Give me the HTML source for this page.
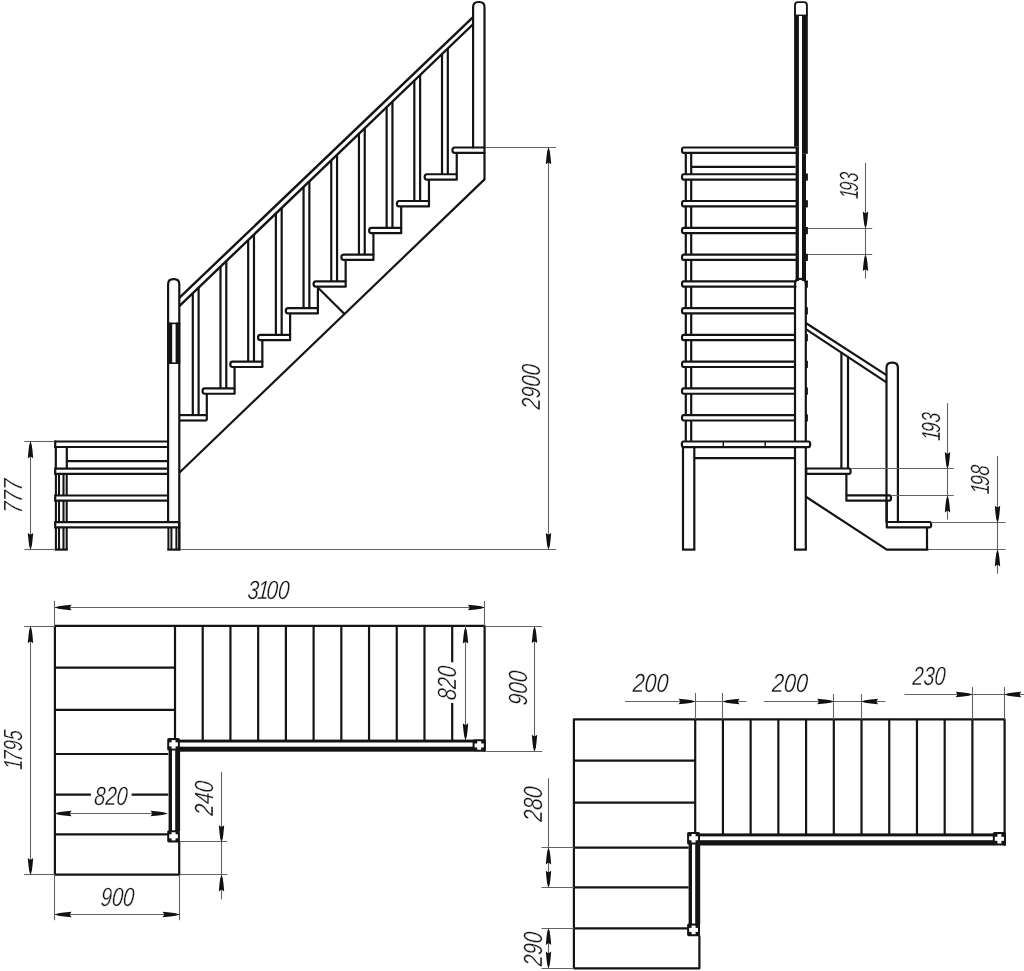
<!DOCTYPE html>
<html lang="en"><head><meta charset="utf-8"><title>Staircase drawing</title>
<style>
html,body{margin:0;padding:0;background:#fff}
body{width:1024px;height:971px;overflow:hidden}
svg{display:block;filter:grayscale(1)}
svg text{font-family:"Liberation Sans","DejaVu Sans",sans-serif;font-style:italic;font-size:26.3px;fill:#161616;stroke:#fff;stroke-width:0.3px;paint-order:fill stroke}
</style></head><body>
<svg width="1024" height="971" viewBox="0 0 1024 971">
<rect width="1024" height="971" fill="#fff"/>
<line x1="179.30" y1="472.80" x2="484.50" y2="179.40" stroke="#141414" stroke-width="2.2" stroke-linecap="butt"/>
<line x1="318.60" y1="288.30" x2="344.50" y2="314.00" stroke="#141414" stroke-width="2.2" stroke-linecap="butt"/>
<path d="M234.57,388.34 H204.70 Q202.50,388.34 202.50,391.04 Q202.50,393.74 204.70,393.74 H234.57" fill="none" stroke="#141414" stroke-width="2.2" stroke-linejoin="round" stroke-linecap="round"/>
<line x1="206.80" y1="393.74" x2="206.80" y2="420.50" stroke="#141414" stroke-width="2.2" stroke-linecap="butt"/>
<path d="M262.34,361.58 H232.47 Q230.27,361.58 230.27,364.28 Q230.27,366.98 232.47,366.98 H262.34" fill="none" stroke="#141414" stroke-width="2.2" stroke-linejoin="round" stroke-linecap="round"/>
<line x1="234.57" y1="366.98" x2="234.57" y2="393.74" stroke="#141414" stroke-width="2.2" stroke-linecap="butt"/>
<path d="M290.11,334.82 H260.24 Q258.04,334.82 258.04,337.52 Q258.04,340.22 260.24,340.22 H290.11" fill="none" stroke="#141414" stroke-width="2.2" stroke-linejoin="round" stroke-linecap="round"/>
<line x1="262.34" y1="340.22" x2="262.34" y2="366.98" stroke="#141414" stroke-width="2.2" stroke-linecap="butt"/>
<path d="M317.88,308.06 H288.01 Q285.81,308.06 285.81,310.76 Q285.81,313.46 288.01,313.46 H317.88" fill="none" stroke="#141414" stroke-width="2.2" stroke-linejoin="round" stroke-linecap="round"/>
<line x1="290.11" y1="313.46" x2="290.11" y2="340.22" stroke="#141414" stroke-width="2.2" stroke-linecap="butt"/>
<path d="M345.65,281.30 H315.78 Q313.58,281.30 313.58,284.00 Q313.58,286.70 315.78,286.70 H345.65" fill="none" stroke="#141414" stroke-width="2.2" stroke-linejoin="round" stroke-linecap="round"/>
<line x1="317.88" y1="286.70" x2="317.88" y2="313.46" stroke="#141414" stroke-width="2.2" stroke-linecap="butt"/>
<path d="M373.42,254.54 H343.55 Q341.35,254.54 341.35,257.24 Q341.35,259.94 343.55,259.94 H373.42" fill="none" stroke="#141414" stroke-width="2.2" stroke-linejoin="round" stroke-linecap="round"/>
<line x1="345.65" y1="259.94" x2="345.65" y2="286.70" stroke="#141414" stroke-width="2.2" stroke-linecap="butt"/>
<path d="M401.19,227.78 H371.32 Q369.12,227.78 369.12,230.48 Q369.12,233.18 371.32,233.18 H401.19" fill="none" stroke="#141414" stroke-width="2.2" stroke-linejoin="round" stroke-linecap="round"/>
<line x1="373.42" y1="233.18" x2="373.42" y2="259.94" stroke="#141414" stroke-width="2.2" stroke-linecap="butt"/>
<path d="M428.96,201.02 H399.09 Q396.89,201.02 396.89,203.72 Q396.89,206.42 399.09,206.42 H428.96" fill="none" stroke="#141414" stroke-width="2.2" stroke-linejoin="round" stroke-linecap="round"/>
<line x1="401.19" y1="206.42" x2="401.19" y2="233.18" stroke="#141414" stroke-width="2.2" stroke-linecap="butt"/>
<path d="M456.73,174.26 H426.86 Q424.66,174.26 424.66,176.96 Q424.66,179.66 426.86,179.66 H456.73" fill="none" stroke="#141414" stroke-width="2.2" stroke-linejoin="round" stroke-linecap="round"/>
<line x1="428.96" y1="179.66" x2="428.96" y2="206.42" stroke="#141414" stroke-width="2.2" stroke-linecap="butt"/>
<path d="M484.50,147.50 H454.63 Q452.43,147.50 452.43,150.20 Q452.43,152.90 454.63,152.90 H484.50" fill="none" stroke="#141414" stroke-width="2.2" stroke-linejoin="round" stroke-linecap="round"/>
<line x1="456.73" y1="152.90" x2="456.73" y2="179.66" stroke="#141414" stroke-width="2.2" stroke-linecap="butt"/>
<line x1="179.30" y1="415.10" x2="206.80" y2="415.10" stroke="#141414" stroke-width="2.2" stroke-linecap="butt"/>
<line x1="179.30" y1="420.50" x2="206.80" y2="420.50" stroke="#141414" stroke-width="2.2" stroke-linecap="butt"/>
<path d="M473.1,147.50 V7.2 Q473.1,2.0 478.3,2.0 H479.3 Q484.5,2.0 484.5,7.2 V179.4" fill="none" stroke="#141414" stroke-width="2.2" stroke-linejoin="round" stroke-linecap="round"/>
<path d="M168.1,521.9 V284.4 Q168.1,279.2 173.3,279.2 H174.1 Q179.3,279.2 179.3,284.4 V549.6" fill="none" stroke="#141414" stroke-width="2.2" stroke-linejoin="round" stroke-linecap="round"/>
<rect x="167.20" y="322.60" width="5.00" height="41.20" fill="#141414"/>
<rect x="175.60" y="322.60" width="4.60" height="41.20" fill="#141414"/>
<line x1="167.20" y1="323.40" x2="180.20" y2="323.40" stroke="#141414" stroke-width="1.6" stroke-linecap="butt"/>
<line x1="167.20" y1="363.20" x2="180.20" y2="363.20" stroke="#141414" stroke-width="1.6" stroke-linecap="butt"/>
<line x1="179.30" y1="297.90" x2="473.30" y2="16.90" stroke="#141414" stroke-width="2.4" stroke-linecap="butt"/>
<line x1="179.30" y1="306.20" x2="473.30" y2="24.00" stroke="#141414" stroke-width="2.4" stroke-linecap="butt"/>
<line x1="192.80" y1="293.24" x2="192.80" y2="415.10" stroke="#141414" stroke-width="2.2" stroke-linecap="butt"/>
<line x1="198.60" y1="287.67" x2="198.60" y2="415.10" stroke="#141414" stroke-width="2.2" stroke-linecap="butt"/>
<line x1="220.49" y1="266.66" x2="220.49" y2="388.34" stroke="#141414" stroke-width="2.2" stroke-linecap="butt"/>
<line x1="226.29" y1="261.10" x2="226.29" y2="388.34" stroke="#141414" stroke-width="2.2" stroke-linecap="butt"/>
<line x1="248.18" y1="240.08" x2="248.18" y2="361.58" stroke="#141414" stroke-width="2.2" stroke-linecap="butt"/>
<line x1="253.98" y1="234.52" x2="253.98" y2="361.58" stroke="#141414" stroke-width="2.2" stroke-linecap="butt"/>
<line x1="275.87" y1="213.51" x2="275.87" y2="334.82" stroke="#141414" stroke-width="2.2" stroke-linecap="butt"/>
<line x1="281.67" y1="207.94" x2="281.67" y2="334.82" stroke="#141414" stroke-width="2.2" stroke-linecap="butt"/>
<line x1="303.56" y1="186.93" x2="303.56" y2="308.06" stroke="#141414" stroke-width="2.2" stroke-linecap="butt"/>
<line x1="309.36" y1="181.36" x2="309.36" y2="308.06" stroke="#141414" stroke-width="2.2" stroke-linecap="butt"/>
<line x1="331.25" y1="160.35" x2="331.25" y2="281.30" stroke="#141414" stroke-width="2.2" stroke-linecap="butt"/>
<line x1="337.05" y1="154.78" x2="337.05" y2="281.30" stroke="#141414" stroke-width="2.2" stroke-linecap="butt"/>
<line x1="358.94" y1="133.77" x2="358.94" y2="254.54" stroke="#141414" stroke-width="2.2" stroke-linecap="butt"/>
<line x1="364.74" y1="128.20" x2="364.74" y2="254.54" stroke="#141414" stroke-width="2.2" stroke-linecap="butt"/>
<line x1="386.63" y1="107.19" x2="386.63" y2="227.78" stroke="#141414" stroke-width="2.2" stroke-linecap="butt"/>
<line x1="392.43" y1="101.62" x2="392.43" y2="227.78" stroke="#141414" stroke-width="2.2" stroke-linecap="butt"/>
<line x1="414.32" y1="80.61" x2="414.32" y2="201.02" stroke="#141414" stroke-width="2.2" stroke-linecap="butt"/>
<line x1="420.12" y1="75.05" x2="420.12" y2="201.02" stroke="#141414" stroke-width="2.2" stroke-linecap="butt"/>
<line x1="442.01" y1="54.03" x2="442.01" y2="174.26" stroke="#141414" stroke-width="2.2" stroke-linecap="butt"/>
<line x1="447.81" y1="48.47" x2="447.81" y2="174.26" stroke="#141414" stroke-width="2.2" stroke-linecap="butt"/>
<line x1="55.20" y1="441.50" x2="168.10" y2="441.50" stroke="#141414" stroke-width="2.2" stroke-linecap="butt"/>
<line x1="55.20" y1="447.00" x2="168.10" y2="447.00" stroke="#141414" stroke-width="2.2" stroke-linecap="butt"/>
<line x1="55.20" y1="440.40" x2="55.20" y2="448.10" stroke="#141414" stroke-width="2.2" stroke-linecap="butt"/>
<line x1="66.80" y1="461.10" x2="168.10" y2="461.10" stroke="#141414" stroke-width="2.2" stroke-linecap="butt"/>
<line x1="55.20" y1="468.70" x2="168.10" y2="468.70" stroke="#141414" stroke-width="2.2" stroke-linecap="butt"/>
<line x1="55.20" y1="473.90" x2="168.10" y2="473.90" stroke="#141414" stroke-width="2.2" stroke-linecap="butt"/>
<line x1="55.20" y1="467.60" x2="55.20" y2="475.00" stroke="#141414" stroke-width="2.2" stroke-linecap="butt"/>
<line x1="55.20" y1="495.50" x2="168.10" y2="495.50" stroke="#141414" stroke-width="2.2" stroke-linecap="butt"/>
<line x1="55.20" y1="500.70" x2="168.10" y2="500.70" stroke="#141414" stroke-width="2.2" stroke-linecap="butt"/>
<line x1="55.20" y1="494.40" x2="55.20" y2="501.80" stroke="#141414" stroke-width="2.2" stroke-linecap="butt"/>
<line x1="55.20" y1="522.20" x2="179.30" y2="522.20" stroke="#141414" stroke-width="2.2" stroke-linecap="butt"/>
<line x1="55.20" y1="527.40" x2="179.30" y2="527.40" stroke="#141414" stroke-width="2.2" stroke-linecap="butt"/>
<line x1="55.20" y1="521.10" x2="55.20" y2="528.50" stroke="#141414" stroke-width="2.2" stroke-linecap="butt"/>
<line x1="179.30" y1="522.20" x2="179.30" y2="527.50" stroke="#141414" stroke-width="2.2" stroke-linecap="butt"/>
<line x1="55.80" y1="447.00" x2="55.80" y2="468.70" stroke="#141414" stroke-width="2.2" stroke-linecap="butt"/>
<line x1="66.80" y1="447.00" x2="66.80" y2="468.70" stroke="#141414" stroke-width="2.2" stroke-linecap="butt"/>
<line x1="55.90" y1="473.90" x2="55.90" y2="495.50" stroke="#141414" stroke-width="2.1" stroke-linecap="butt"/>
<line x1="59.00" y1="473.90" x2="59.00" y2="495.50" stroke="#141414" stroke-width="2.1" stroke-linecap="butt"/>
<line x1="63.50" y1="473.90" x2="63.50" y2="495.50" stroke="#141414" stroke-width="2.1" stroke-linecap="butt"/>
<line x1="66.70" y1="473.90" x2="66.70" y2="495.50" stroke="#141414" stroke-width="2.1" stroke-linecap="butt"/>
<line x1="55.90" y1="500.70" x2="55.90" y2="522.20" stroke="#141414" stroke-width="2.1" stroke-linecap="butt"/>
<line x1="59.00" y1="500.70" x2="59.00" y2="522.20" stroke="#141414" stroke-width="2.1" stroke-linecap="butt"/>
<line x1="63.50" y1="500.70" x2="63.50" y2="522.20" stroke="#141414" stroke-width="2.1" stroke-linecap="butt"/>
<line x1="66.70" y1="500.70" x2="66.70" y2="522.20" stroke="#141414" stroke-width="2.1" stroke-linecap="butt"/>
<line x1="55.90" y1="527.40" x2="55.90" y2="549.60" stroke="#141414" stroke-width="2.1" stroke-linecap="butt"/>
<line x1="59.00" y1="527.40" x2="59.00" y2="549.60" stroke="#141414" stroke-width="2.1" stroke-linecap="butt"/>
<line x1="63.50" y1="527.40" x2="63.50" y2="549.60" stroke="#141414" stroke-width="2.1" stroke-linecap="butt"/>
<line x1="66.70" y1="527.40" x2="66.70" y2="549.60" stroke="#141414" stroke-width="2.1" stroke-linecap="butt"/>
<line x1="54.80" y1="549.60" x2="67.80" y2="549.60" stroke="#141414" stroke-width="2.2" stroke-linecap="butt"/>
<line x1="168.40" y1="527.40" x2="168.40" y2="549.60" stroke="#141414" stroke-width="2.0" stroke-linecap="butt"/>
<line x1="171.40" y1="527.40" x2="171.40" y2="549.60" stroke="#141414" stroke-width="2.0" stroke-linecap="butt"/>
<line x1="176.40" y1="527.40" x2="176.40" y2="549.60" stroke="#141414" stroke-width="2.0" stroke-linecap="butt"/>
<line x1="179.30" y1="527.40" x2="179.30" y2="549.60" stroke="#141414" stroke-width="2.0" stroke-linecap="butt"/>
<line x1="167.30" y1="549.60" x2="180.40" y2="549.60" stroke="#141414" stroke-width="2.2" stroke-linecap="butt"/>
<line x1="180.00" y1="549.50" x2="556.00" y2="549.50" stroke="#636363" stroke-width="1.1" stroke-linecap="butt"/>
<line x1="485.50" y1="147.50" x2="556.00" y2="147.50" stroke="#636363" stroke-width="1.1" stroke-linecap="butt"/>
<line x1="548.50" y1="147.60" x2="548.50" y2="549.60" stroke="#636363" stroke-width="1.1" stroke-linecap="butt"/>
<polygon points="548.50,147.60 549.75,151.10 550.50,156.60 551.20,164.30 548.50,162.40 545.80,164.30 546.50,156.60 547.25,151.10" fill="#111"/>
<polygon points="548.50,549.60 547.25,546.10 546.50,540.60 545.80,532.90 548.50,534.80 551.20,532.90 550.50,540.60 549.75,546.10" fill="#111"/>
<text transform="translate(540.00,387.25) rotate(-90) skewX(-4) scale(0.7727,1)" text-anchor="middle">2900</text>
<line x1="24.40" y1="441.50" x2="54.40" y2="441.50" stroke="#636363" stroke-width="1.1" stroke-linecap="butt"/>
<line x1="24.40" y1="549.50" x2="54.40" y2="549.50" stroke="#636363" stroke-width="1.1" stroke-linecap="butt"/>
<line x1="30.50" y1="441.60" x2="30.50" y2="549.60" stroke="#636363" stroke-width="1.1" stroke-linecap="butt"/>
<polygon points="30.50,441.60 31.75,445.10 32.50,450.60 33.20,458.30 30.50,456.40 27.80,458.30 28.50,450.60 29.25,445.10" fill="#111"/>
<polygon points="30.50,549.60 29.25,546.10 28.50,540.60 27.80,532.90 30.50,534.80 33.20,532.90 32.50,540.60 31.75,546.10" fill="#111"/>
<text transform="translate(21.50,496.75) rotate(-90) skewX(-4) scale(0.7783,1)" text-anchor="middle">777</text>
<path d="M795.00,415.10 H683.50 Q682.00,415.10 682.00,417.80 Q682.00,420.50 683.50,420.50 H795.00" fill="none" stroke="#141414" stroke-width="2.2" stroke-linejoin="round" stroke-linecap="round"/>
<path d="M795.00,388.34 H683.50 Q682.00,388.34 682.00,391.04 Q682.00,393.74 683.50,393.74 H795.00" fill="none" stroke="#141414" stroke-width="2.2" stroke-linejoin="round" stroke-linecap="round"/>
<path d="M795.00,361.58 H683.50 Q682.00,361.58 682.00,364.28 Q682.00,366.98 683.50,366.98 H795.00" fill="none" stroke="#141414" stroke-width="2.2" stroke-linejoin="round" stroke-linecap="round"/>
<path d="M795.00,334.82 H683.50 Q682.00,334.82 682.00,337.52 Q682.00,340.22 683.50,340.22 H795.00" fill="none" stroke="#141414" stroke-width="2.2" stroke-linejoin="round" stroke-linecap="round"/>
<path d="M795.00,308.06 H683.50 Q682.00,308.06 682.00,310.76 Q682.00,313.46 683.50,313.46 H795.00" fill="none" stroke="#141414" stroke-width="2.2" stroke-linejoin="round" stroke-linecap="round"/>
<path d="M795.60,281.30 H683.50 Q682.00,281.30 682.00,284.00 Q682.00,286.70 683.50,286.70 H795.60" fill="none" stroke="#141414" stroke-width="2.2" stroke-linejoin="round" stroke-linecap="round"/>
<path d="M795.60,254.54 H683.50 Q682.00,254.54 682.00,257.24 Q682.00,259.94 683.50,259.94 H795.60" fill="none" stroke="#141414" stroke-width="2.2" stroke-linejoin="round" stroke-linecap="round"/>
<path d="M795.60,227.78 H683.50 Q682.00,227.78 682.00,230.48 Q682.00,233.18 683.50,233.18 H795.60" fill="none" stroke="#141414" stroke-width="2.2" stroke-linejoin="round" stroke-linecap="round"/>
<path d="M795.60,201.02 H683.50 Q682.00,201.02 682.00,203.72 Q682.00,206.42 683.50,206.42 H795.60" fill="none" stroke="#141414" stroke-width="2.2" stroke-linejoin="round" stroke-linecap="round"/>
<path d="M795.60,174.26 H683.50 Q682.00,174.26 682.00,176.96 Q682.00,179.66 683.50,179.66 H795.60" fill="none" stroke="#141414" stroke-width="2.2" stroke-linejoin="round" stroke-linecap="round"/>
<path d="M795.60,147.50 H683.50 Q682.00,147.50 682.00,150.20 Q682.00,152.90 683.50,152.90 H795.60" fill="none" stroke="#141414" stroke-width="2.2" stroke-linejoin="round" stroke-linecap="round"/>
<line x1="691.20" y1="166.80" x2="795.60" y2="166.80" stroke="#141414" stroke-width="2.2" stroke-linecap="butt"/>
<line x1="685.80" y1="420.50" x2="685.80" y2="441.86" stroke="#141414" stroke-width="2.2" stroke-linecap="butt"/>
<line x1="691.20" y1="420.50" x2="691.20" y2="441.86" stroke="#141414" stroke-width="2.2" stroke-linecap="butt"/>
<line x1="685.80" y1="393.74" x2="685.80" y2="415.10" stroke="#141414" stroke-width="2.2" stroke-linecap="butt"/>
<line x1="691.20" y1="393.74" x2="691.20" y2="415.10" stroke="#141414" stroke-width="2.2" stroke-linecap="butt"/>
<line x1="685.80" y1="366.98" x2="685.80" y2="388.34" stroke="#141414" stroke-width="2.2" stroke-linecap="butt"/>
<line x1="691.20" y1="366.98" x2="691.20" y2="388.34" stroke="#141414" stroke-width="2.2" stroke-linecap="butt"/>
<line x1="685.80" y1="340.22" x2="685.80" y2="361.58" stroke="#141414" stroke-width="2.2" stroke-linecap="butt"/>
<line x1="691.20" y1="340.22" x2="691.20" y2="361.58" stroke="#141414" stroke-width="2.2" stroke-linecap="butt"/>
<line x1="685.80" y1="313.46" x2="685.80" y2="334.82" stroke="#141414" stroke-width="2.2" stroke-linecap="butt"/>
<line x1="691.20" y1="313.46" x2="691.20" y2="334.82" stroke="#141414" stroke-width="2.2" stroke-linecap="butt"/>
<line x1="685.80" y1="286.70" x2="685.80" y2="308.06" stroke="#141414" stroke-width="2.2" stroke-linecap="butt"/>
<line x1="691.20" y1="286.70" x2="691.20" y2="308.06" stroke="#141414" stroke-width="2.2" stroke-linecap="butt"/>
<line x1="685.80" y1="259.94" x2="685.80" y2="281.30" stroke="#141414" stroke-width="2.2" stroke-linecap="butt"/>
<line x1="691.20" y1="259.94" x2="691.20" y2="281.30" stroke="#141414" stroke-width="2.2" stroke-linecap="butt"/>
<line x1="685.80" y1="233.18" x2="685.80" y2="254.54" stroke="#141414" stroke-width="2.2" stroke-linecap="butt"/>
<line x1="691.20" y1="233.18" x2="691.20" y2="254.54" stroke="#141414" stroke-width="2.2" stroke-linecap="butt"/>
<line x1="685.80" y1="206.42" x2="685.80" y2="227.78" stroke="#141414" stroke-width="2.2" stroke-linecap="butt"/>
<line x1="691.20" y1="206.42" x2="691.20" y2="227.78" stroke="#141414" stroke-width="2.2" stroke-linecap="butt"/>
<line x1="685.80" y1="179.66" x2="685.80" y2="201.02" stroke="#141414" stroke-width="2.2" stroke-linecap="butt"/>
<line x1="691.20" y1="179.66" x2="691.20" y2="201.02" stroke="#141414" stroke-width="2.2" stroke-linecap="butt"/>
<line x1="685.80" y1="152.90" x2="685.80" y2="174.26" stroke="#141414" stroke-width="2.2" stroke-linecap="butt"/>
<line x1="691.20" y1="152.90" x2="691.20" y2="174.26" stroke="#141414" stroke-width="2.2" stroke-linecap="butt"/>
<path d="M795.0,15 V5 Q795.0,2.1 798,2.1 H804 Q806.9,2.1 806.9,5 V15" fill="none" stroke="#141414" stroke-width="1.9" stroke-linejoin="round" stroke-linecap="round"/>
<rect x="798.50" y="14.60" width="3.90" height="1.40" fill="#141414"/>
<rect x="794.10" y="14.60" width="4.80" height="132.00" fill="#141414"/>
<rect x="802.00" y="14.60" width="5.80" height="139.20" fill="#141414"/>
<rect x="795.60" y="146.60" width="3.30" height="134.40" fill="#141414"/>
<rect x="802.00" y="153.80" width="4.00" height="127.20" fill="#141414"/>
<rect x="805.00" y="414.30" width="2.90" height="7.20" fill="#141414"/>
<rect x="805.00" y="387.54" width="2.90" height="7.20" fill="#141414"/>
<rect x="805.00" y="360.78" width="2.90" height="7.20" fill="#141414"/>
<rect x="805.00" y="334.02" width="2.90" height="7.20" fill="#141414"/>
<rect x="805.00" y="307.26" width="2.90" height="7.20" fill="#141414"/>
<rect x="805.00" y="280.50" width="2.90" height="7.20" fill="#141414"/>
<rect x="805.00" y="253.74" width="2.90" height="7.20" fill="#141414"/>
<rect x="805.00" y="226.98" width="2.90" height="7.20" fill="#141414"/>
<rect x="805.00" y="200.22" width="2.90" height="7.20" fill="#141414"/>
<rect x="805.00" y="173.46" width="2.90" height="7.20" fill="#141414"/>
<path d="M795.0,549.6 V284.0 Q795.0,278.9 800.1,278.9 H800.7 Q805.8,278.9 805.8,284.0 V549.6" fill="none" stroke="#141414" stroke-width="2.2" stroke-linejoin="round" stroke-linecap="round"/>
<line x1="794.10" y1="549.60" x2="806.70" y2="549.60" stroke="#141414" stroke-width="2.2" stroke-linecap="butt"/>
<path d="M683,441.5 H808.5 Q810.2,441.5 810.2,444.3 Q810.2,447.1 808.5,447.1 H683.6 Q681.8,447.1 681.8,444.3 Q681.8,441.5 683.6,441.5 Z" fill="#fff" stroke="#141414" stroke-width="2.2" stroke-linejoin="round" stroke-linecap="round"/>
<line x1="723.30" y1="441.50" x2="723.30" y2="447.10" stroke="#141414" stroke-width="1.4" stroke-linecap="butt"/>
<line x1="765.20" y1="441.50" x2="765.20" y2="447.10" stroke="#141414" stroke-width="1.4" stroke-linecap="butt"/>
<line x1="683.00" y1="447.10" x2="683.00" y2="549.60" stroke="#141414" stroke-width="2.2" stroke-linecap="butt"/>
<line x1="694.30" y1="447.10" x2="694.30" y2="549.60" stroke="#141414" stroke-width="2.2" stroke-linecap="butt"/>
<line x1="682.00" y1="549.60" x2="695.30" y2="549.60" stroke="#141414" stroke-width="2.2" stroke-linecap="butt"/>
<line x1="694.30" y1="458.20" x2="795.00" y2="458.20" stroke="#141414" stroke-width="2.2" stroke-linecap="butt"/>
<path d="M806.30,468.50 H849.10 Q850.60,468.50 850.60,471.20 Q850.60,473.90 849.10,473.90 H806.30 Z" fill="none" stroke="#141414" stroke-width="2.2" stroke-linejoin="round" stroke-linecap="round"/>
<path d="M846.40,495.30 H889.50 Q891.00,495.30 891.00,498.00 Q891.00,500.70 889.50,500.70 H846.40 Z" fill="none" stroke="#141414" stroke-width="2.2" stroke-linejoin="round" stroke-linecap="round"/>
<path d="M886.80,522.00 H929.70 Q931.20,522.00 931.20,524.70 Q931.20,527.40 929.70,527.40 H886.80 Z" fill="none" stroke="#141414" stroke-width="2.2" stroke-linejoin="round" stroke-linecap="round"/>
<line x1="846.40" y1="473.90" x2="846.40" y2="495.30" stroke="#141414" stroke-width="2.2" stroke-linecap="butt"/>
<line x1="886.80" y1="500.70" x2="886.80" y2="522.00" stroke="#141414" stroke-width="2.2" stroke-linecap="butt"/>
<line x1="927.00" y1="527.40" x2="927.00" y2="549.60" stroke="#141414" stroke-width="2.2" stroke-linecap="butt"/>
<path d="M806.3,497 L886.8,549.6 H927.9" fill="none" stroke="#141414" stroke-width="2.2" stroke-linejoin="round" stroke-linecap="round"/>
<line x1="805.80" y1="323.00" x2="886.50" y2="375.20" stroke="#141414" stroke-width="2.2" stroke-linecap="butt"/>
<line x1="805.80" y1="329.20" x2="886.50" y2="382.40" stroke="#141414" stroke-width="2.2" stroke-linecap="butt"/>
<line x1="841.40" y1="352.40" x2="841.40" y2="468.50" stroke="#141414" stroke-width="2.2" stroke-linecap="butt"/>
<line x1="848.00" y1="356.70" x2="848.00" y2="468.50" stroke="#141414" stroke-width="2.2" stroke-linecap="butt"/>
<path d="M886.5,522.0 V367.8 Q886.5,362.6 891.7,362.6 H892.7 Q897.9,362.6 897.9,367.8 V522.0" fill="none" stroke="#141414" stroke-width="2.2" stroke-linejoin="round" stroke-linecap="round"/>
<line x1="808.00" y1="228.50" x2="872.20" y2="228.50" stroke="#636363" stroke-width="1.1" stroke-linecap="butt"/>
<line x1="808.00" y1="254.50" x2="872.20" y2="254.50" stroke="#636363" stroke-width="1.1" stroke-linecap="butt"/>
<line x1="865.50" y1="162.70" x2="865.50" y2="278.50" stroke="#636363" stroke-width="1.1" stroke-linecap="butt"/>
<polygon points="865.50,228.30 864.25,224.80 863.50,219.30 862.80,211.60 865.50,213.50 868.20,211.60 867.50,219.30 866.75,224.80" fill="#111"/>
<polygon points="865.50,254.40 866.75,257.90 867.50,263.40 868.20,271.10 865.50,269.20 862.80,271.10 863.50,263.40 864.25,257.90" fill="#111"/>
<text transform="translate(857.50,186.00) rotate(-90) skewX(-4) scale(0.6438,1)" text-anchor="middle">1<tspan dx="-3.0">9</tspan>3</text>
<line x1="851.00" y1="468.50" x2="953.80" y2="468.50" stroke="#636363" stroke-width="1.1" stroke-linecap="butt"/>
<line x1="891.50" y1="495.50" x2="953.80" y2="495.50" stroke="#636363" stroke-width="1.1" stroke-linecap="butt"/>
<line x1="931.50" y1="522.50" x2="1005.60" y2="522.50" stroke="#636363" stroke-width="1.1" stroke-linecap="butt"/>
<line x1="928.00" y1="549.50" x2="1005.60" y2="549.50" stroke="#636363" stroke-width="1.1" stroke-linecap="butt"/>
<line x1="947.50" y1="403.30" x2="947.50" y2="519.50" stroke="#636363" stroke-width="1.1" stroke-linecap="butt"/>
<polygon points="947.50,468.80 946.25,465.30 945.50,459.80 944.80,452.10 947.50,454.00 950.20,452.10 949.50,459.80 948.75,465.30" fill="#111"/>
<polygon points="947.50,495.80 948.75,499.30 949.50,504.80 950.20,512.50 947.50,510.60 944.80,512.50 945.50,504.80 946.25,499.30" fill="#111"/>
<line x1="997.50" y1="456.10" x2="997.50" y2="573.80" stroke="#636363" stroke-width="1.1" stroke-linecap="butt"/>
<polygon points="997.50,522.40 996.25,518.90 995.50,513.40 994.80,505.70 997.50,507.60 1000.20,505.70 999.50,513.40 998.75,518.90" fill="#111"/>
<polygon points="997.50,549.80 998.75,553.30 999.50,558.80 1000.20,566.50 997.50,564.60 994.80,566.50 995.50,558.80 996.25,553.30" fill="#111"/>
<text transform="translate(939.50,427.00) rotate(-90) skewX(-4) scale(0.6862,1)" text-anchor="middle">1<tspan dx="-3.0">9</tspan>3</text>
<text transform="translate(989.00,480.00) rotate(-90) skewX(-4) scale(0.7085,1)" text-anchor="middle">1<tspan dx="-3.0">9</tspan>8</text>
<path d="M484.6,751 V625.9 H54.9 V874.7 H179.2 V842" fill="none" stroke="#141414" stroke-width="2.2" stroke-linejoin="round" stroke-linecap="round"/>
<line x1="54.90" y1="667.60" x2="175.00" y2="667.60" stroke="#141414" stroke-width="2.2" stroke-linecap="butt"/>
<line x1="54.90" y1="709.80" x2="175.00" y2="709.80" stroke="#141414" stroke-width="2.2" stroke-linecap="butt"/>
<line x1="54.90" y1="754.00" x2="168.20" y2="754.00" stroke="#141414" stroke-width="2.2" stroke-linecap="butt"/>
<line x1="54.90" y1="794.60" x2="90.90" y2="794.60" stroke="#141414" stroke-width="2.2" stroke-linecap="butt"/>
<line x1="131.60" y1="794.60" x2="168.20" y2="794.60" stroke="#141414" stroke-width="2.2" stroke-linecap="butt"/>
<line x1="54.90" y1="834.30" x2="168.20" y2="834.30" stroke="#141414" stroke-width="2.2" stroke-linecap="butt"/>
<line x1="175.00" y1="625.90" x2="175.00" y2="741.00" stroke="#141414" stroke-width="2.2" stroke-linecap="butt"/>
<line x1="202.72" y1="625.90" x2="202.72" y2="741.00" stroke="#141414" stroke-width="2.2" stroke-linecap="butt"/>
<line x1="230.44" y1="625.90" x2="230.44" y2="741.00" stroke="#141414" stroke-width="2.2" stroke-linecap="butt"/>
<line x1="258.16" y1="625.90" x2="258.16" y2="741.00" stroke="#141414" stroke-width="2.2" stroke-linecap="butt"/>
<line x1="285.88" y1="625.90" x2="285.88" y2="741.00" stroke="#141414" stroke-width="2.2" stroke-linecap="butt"/>
<line x1="313.60" y1="625.90" x2="313.60" y2="741.00" stroke="#141414" stroke-width="2.2" stroke-linecap="butt"/>
<line x1="341.32" y1="625.90" x2="341.32" y2="741.00" stroke="#141414" stroke-width="2.2" stroke-linecap="butt"/>
<line x1="369.04" y1="625.90" x2="369.04" y2="741.00" stroke="#141414" stroke-width="2.2" stroke-linecap="butt"/>
<line x1="396.76" y1="625.90" x2="396.76" y2="741.00" stroke="#141414" stroke-width="2.2" stroke-linecap="butt"/>
<line x1="424.48" y1="625.90" x2="424.48" y2="741.00" stroke="#141414" stroke-width="2.2" stroke-linecap="butt"/>
<line x1="452.20" y1="625.90" x2="452.20" y2="662.30" stroke="#141414" stroke-width="2.2" stroke-linecap="butt"/>
<line x1="452.20" y1="703.00" x2="452.20" y2="741.00" stroke="#141414" stroke-width="2.2" stroke-linecap="butt"/>
<rect x="179.00" y="739.60" width="294.50" height="2.90" fill="#141414"/>
<rect x="179.00" y="746.70" width="294.50" height="5.00" fill="#141414"/>
<rect x="168.60" y="750.00" width="3.40" height="81.00" fill="#141414"/>
<rect x="175.20" y="750.00" width="4.90" height="81.00" fill="#141414"/>
<rect x="167.20" y="738.10" width="12.70" height="12.50" rx="1.6" fill="#141414"/>
<rect x="171.55" y="740.10" width="4.00" height="8.50" fill="#fff"/>
<rect x="169.20" y="742.35" width="8.70" height="4.00" fill="#fff"/>
<rect x="167.20" y="830.20" width="12.70" height="12.20" rx="1.6" fill="#141414"/>
<rect x="171.55" y="832.20" width="4.00" height="8.20" fill="#fff"/>
<rect x="169.20" y="834.30" width="8.70" height="4.00" fill="#fff"/>
<rect x="472.60" y="739.20" width="13.20" height="12.50" rx="1.6" fill="#141414"/>
<rect x="477.20" y="741.20" width="4.00" height="8.50" fill="#fff"/>
<rect x="474.60" y="743.45" width="9.20" height="4.00" fill="#fff"/>
<line x1="54.50" y1="601.00" x2="54.50" y2="625.90" stroke="#636363" stroke-width="1.1" stroke-linecap="butt"/>
<line x1="484.50" y1="601.00" x2="484.50" y2="625.90" stroke="#636363" stroke-width="1.1" stroke-linecap="butt"/>
<line x1="54.90" y1="607.50" x2="484.60" y2="607.50" stroke="#636363" stroke-width="1.1" stroke-linecap="butt"/>
<polygon points="54.90,607.50 58.40,606.25 63.90,605.50 71.60,604.80 69.70,607.50 71.60,610.20 63.90,609.50 58.40,608.75" fill="#111"/>
<polygon points="484.60,607.50 481.10,608.75 475.60,609.50 467.90,610.20 469.80,607.50 467.90,604.80 475.60,605.50 481.10,606.25" fill="#111"/>
<text transform="translate(268.00,599.00) skewX(-4) scale(0.7845,1)" text-anchor="middle">3<tspan dx="-2.0">1</tspan><tspan dx="-3.0">0</tspan>0</text>
<line x1="24.10" y1="626.50" x2="54.90" y2="626.50" stroke="#636363" stroke-width="1.1" stroke-linecap="butt"/>
<line x1="24.10" y1="874.50" x2="54.90" y2="874.50" stroke="#636363" stroke-width="1.1" stroke-linecap="butt"/>
<line x1="30.50" y1="626.50" x2="30.50" y2="874.70" stroke="#636363" stroke-width="1.1" stroke-linecap="butt"/>
<polygon points="30.50,626.50 31.75,630.00 32.50,635.50 33.20,643.20 30.50,641.30 27.80,643.20 28.50,635.50 29.25,630.00" fill="#111"/>
<polygon points="30.50,874.70 29.25,871.20 28.50,865.70 27.80,858.00 30.50,859.90 33.20,858.00 32.50,865.70 31.75,871.20" fill="#111"/>
<text transform="translate(22.00,750.25) rotate(-90) skewX(-4) scale(0.7098,1)" text-anchor="middle">1<tspan dx="-3.0">7</tspan>95</text>
<line x1="54.50" y1="874.70" x2="54.50" y2="920.20" stroke="#636363" stroke-width="1.1" stroke-linecap="butt"/>
<line x1="179.50" y1="874.70" x2="179.50" y2="920.20" stroke="#636363" stroke-width="1.1" stroke-linecap="butt"/>
<line x1="54.90" y1="914.50" x2="179.20" y2="914.50" stroke="#636363" stroke-width="1.1" stroke-linecap="butt"/>
<polygon points="54.90,914.50 58.40,913.25 63.90,912.50 71.60,911.80 69.70,914.50 71.60,917.20 63.90,916.50 58.40,915.75" fill="#111"/>
<polygon points="179.20,914.50 175.70,915.75 170.20,916.50 162.50,917.20 164.40,914.50 162.50,911.80 170.20,912.50 175.70,913.25" fill="#111"/>
<text transform="translate(117.00,905.50) skewX(-4) scale(0.7664,1)" text-anchor="middle">900</text>
<line x1="54.90" y1="813.50" x2="167.20" y2="813.50" stroke="#636363" stroke-width="1.1" stroke-linecap="butt"/>
<polygon points="54.90,813.50 58.40,812.25 63.90,811.50 71.60,810.80 69.70,813.50 71.60,816.20 63.90,815.50 58.40,814.75" fill="#111"/>
<polygon points="167.20,813.50 163.70,814.75 158.20,815.50 150.50,816.20 152.40,813.50 150.50,810.80 158.20,811.50 163.70,812.25" fill="#111"/>
<text transform="translate(110.50,804.50) skewX(-4) scale(0.7629,1)" text-anchor="middle">820</text>
<line x1="180.00" y1="841.50" x2="227.30" y2="841.50" stroke="#636363" stroke-width="1.1" stroke-linecap="butt"/>
<line x1="180.00" y1="874.50" x2="227.30" y2="874.50" stroke="#636363" stroke-width="1.1" stroke-linecap="butt"/>
<line x1="221.50" y1="771.90" x2="221.50" y2="899.30" stroke="#636363" stroke-width="1.1" stroke-linecap="butt"/>
<polygon points="221.50,841.90 220.25,838.40 219.50,832.90 218.80,825.20 221.50,827.10 224.20,825.20 223.50,832.90 222.75,838.40" fill="#111"/>
<polygon points="221.50,874.70 222.75,878.20 223.50,883.70 224.20,891.40 221.50,889.50 218.80,891.40 219.50,883.70 220.25,878.20" fill="#111"/>
<text transform="translate(213.00,798.75) rotate(-90) skewX(-4) scale(0.7881,1)" text-anchor="middle">240</text>
<line x1="465.50" y1="625.90" x2="465.50" y2="740.00" stroke="#636363" stroke-width="1.1" stroke-linecap="butt"/>
<polygon points="465.50,626.90 466.75,630.40 467.50,635.90 468.20,643.60 465.50,641.70 462.80,643.60 463.50,635.90 464.25,630.40" fill="#111"/>
<polygon points="465.50,740.00 464.25,736.50 463.50,731.00 462.80,723.30 465.50,725.20 468.20,723.30 467.50,731.00 466.75,736.50" fill="#111"/>
<text transform="translate(456.00,683.50) rotate(-90) skewX(-4) scale(0.7787,1)" text-anchor="middle">820</text>
<line x1="485.50" y1="626.50" x2="542.20" y2="626.50" stroke="#636363" stroke-width="1.1" stroke-linecap="butt"/>
<line x1="486.00" y1="751.50" x2="542.20" y2="751.50" stroke="#636363" stroke-width="1.1" stroke-linecap="butt"/>
<line x1="534.50" y1="626.40" x2="534.50" y2="751.40" stroke="#636363" stroke-width="1.1" stroke-linecap="butt"/>
<polygon points="534.50,626.40 535.75,629.90 536.50,635.40 537.20,643.10 534.50,641.20 531.80,643.10 532.50,635.40 533.25,629.90" fill="#111"/>
<polygon points="534.50,751.40 533.25,747.90 532.50,742.40 531.80,734.70 534.50,736.60 537.20,734.70 536.50,742.40 535.75,747.90" fill="#111"/>
<text transform="translate(526.50,688.50) rotate(-90) skewX(-4) scale(0.7838,1)" text-anchor="middle">900</text>
<path d="M1004.6,845 V719.4 H573.9 V968.3 H699.4 V936" fill="none" stroke="#141414" stroke-width="2.2" stroke-linejoin="round" stroke-linecap="round"/>
<line x1="573.90" y1="760.70" x2="695.20" y2="760.70" stroke="#141414" stroke-width="2.2" stroke-linecap="butt"/>
<line x1="573.90" y1="802.70" x2="695.20" y2="802.70" stroke="#141414" stroke-width="2.2" stroke-linecap="butt"/>
<line x1="573.90" y1="847.70" x2="688.60" y2="847.70" stroke="#141414" stroke-width="2.2" stroke-linecap="butt"/>
<line x1="573.90" y1="887.40" x2="688.60" y2="887.40" stroke="#141414" stroke-width="2.2" stroke-linecap="butt"/>
<line x1="573.90" y1="928.30" x2="688.60" y2="928.30" stroke="#141414" stroke-width="2.2" stroke-linecap="butt"/>
<line x1="695.20" y1="719.40" x2="695.20" y2="834.50" stroke="#141414" stroke-width="2.2" stroke-linecap="butt"/>
<line x1="722.92" y1="719.40" x2="722.92" y2="834.50" stroke="#141414" stroke-width="2.2" stroke-linecap="butt"/>
<line x1="750.64" y1="719.40" x2="750.64" y2="834.50" stroke="#141414" stroke-width="2.2" stroke-linecap="butt"/>
<line x1="778.36" y1="719.40" x2="778.36" y2="834.50" stroke="#141414" stroke-width="2.2" stroke-linecap="butt"/>
<line x1="806.08" y1="719.40" x2="806.08" y2="834.50" stroke="#141414" stroke-width="2.2" stroke-linecap="butt"/>
<line x1="833.80" y1="719.40" x2="833.80" y2="834.50" stroke="#141414" stroke-width="2.2" stroke-linecap="butt"/>
<line x1="861.52" y1="719.40" x2="861.52" y2="834.50" stroke="#141414" stroke-width="2.2" stroke-linecap="butt"/>
<line x1="889.24" y1="719.40" x2="889.24" y2="834.50" stroke="#141414" stroke-width="2.2" stroke-linecap="butt"/>
<line x1="916.96" y1="719.40" x2="916.96" y2="834.50" stroke="#141414" stroke-width="2.2" stroke-linecap="butt"/>
<line x1="944.68" y1="719.40" x2="944.68" y2="834.50" stroke="#141414" stroke-width="2.2" stroke-linecap="butt"/>
<line x1="972.40" y1="719.40" x2="972.40" y2="834.50" stroke="#141414" stroke-width="2.2" stroke-linecap="butt"/>
<rect x="700.00" y="833.40" width="294.00" height="3.00" fill="#141414"/>
<rect x="700.00" y="840.20" width="294.00" height="5.30" fill="#141414"/>
<rect x="688.60" y="844.00" width="3.40" height="81.00" fill="#141414"/>
<rect x="695.20" y="844.00" width="5.00" height="81.00" fill="#141414"/>
<rect x="687.10" y="832.00" width="12.90" height="12.50" rx="1.6" fill="#141414"/>
<rect x="691.55" y="834.00" width="4.00" height="8.50" fill="#fff"/>
<rect x="689.10" y="836.25" width="8.90" height="4.00" fill="#fff"/>
<rect x="687.10" y="923.60" width="12.90" height="12.60" rx="1.6" fill="#141414"/>
<rect x="691.55" y="925.60" width="4.00" height="8.60" fill="#fff"/>
<rect x="689.10" y="927.90" width="8.90" height="4.00" fill="#fff"/>
<rect x="992.80" y="832.10" width="13.20" height="13.40" rx="1.6" fill="#141414"/>
<rect x="997.40" y="834.10" width="4.00" height="9.40" fill="#fff"/>
<rect x="994.80" y="836.80" width="9.20" height="4.00" fill="#fff"/>
<line x1="695.50" y1="693.00" x2="695.50" y2="719.40" stroke="#636363" stroke-width="1.1" stroke-linecap="butt"/>
<line x1="722.50" y1="693.00" x2="722.50" y2="719.40" stroke="#636363" stroke-width="1.1" stroke-linecap="butt"/>
<line x1="625.10" y1="701.50" x2="746.40" y2="701.50" stroke="#636363" stroke-width="1.1" stroke-linecap="butt"/>
<polygon points="695.20,701.50 691.70,702.75 686.20,703.50 678.50,704.20 680.40,701.50 678.50,698.80 686.20,699.50 691.70,700.25" fill="#111"/>
<polygon points="722.90,701.50 726.40,700.25 731.90,699.50 739.60,698.80 737.70,701.50 739.60,704.20 731.90,703.50 726.40,702.75" fill="#111"/>
<text transform="translate(650.00,692.00) skewX(-4) scale(0.8127,1)" text-anchor="middle">200</text>
<line x1="833.50" y1="694.00" x2="833.50" y2="719.40" stroke="#636363" stroke-width="1.1" stroke-linecap="butt"/>
<line x1="861.50" y1="694.00" x2="861.50" y2="719.40" stroke="#636363" stroke-width="1.1" stroke-linecap="butt"/>
<line x1="763.90" y1="701.50" x2="885.50" y2="701.50" stroke="#636363" stroke-width="1.1" stroke-linecap="butt"/>
<polygon points="833.80,701.50 830.30,702.75 824.80,703.50 817.10,704.20 819.00,701.50 817.10,698.80 824.80,699.50 830.30,700.25" fill="#111"/>
<polygon points="861.50,701.50 865.00,700.25 870.50,699.50 878.20,698.80 876.30,701.50 878.20,704.20 870.50,703.50 865.00,702.75" fill="#111"/>
<text transform="translate(789.50,691.50) skewX(-4) scale(0.8154,1)" text-anchor="middle">200</text>
<line x1="972.50" y1="687.00" x2="972.50" y2="719.40" stroke="#636363" stroke-width="1.1" stroke-linecap="butt"/>
<line x1="1004.50" y1="687.00" x2="1004.50" y2="719.40" stroke="#636363" stroke-width="1.1" stroke-linecap="butt"/>
<line x1="904.40" y1="694.50" x2="1024.00" y2="694.50" stroke="#636363" stroke-width="1.1" stroke-linecap="butt"/>
<polygon points="972.40,694.50 968.90,695.75 963.40,696.50 955.70,697.20 957.60,694.50 955.70,691.80 963.40,692.50 968.90,693.25" fill="#111"/>
<polygon points="1004.60,694.50 1008.10,693.25 1013.60,692.50 1021.30,691.80 1019.40,694.50 1021.30,697.20 1013.60,696.50 1008.10,695.75" fill="#111"/>
<text transform="translate(928.50,685.00) skewX(-4) scale(0.7518,1)" text-anchor="middle">230</text>
<line x1="541.50" y1="847.50" x2="573.90" y2="847.50" stroke="#636363" stroke-width="1.1" stroke-linecap="butt"/>
<line x1="541.50" y1="887.50" x2="573.90" y2="887.50" stroke="#636363" stroke-width="1.1" stroke-linecap="butt"/>
<line x1="548.50" y1="778.30" x2="548.50" y2="887.40" stroke="#636363" stroke-width="1.1" stroke-linecap="butt"/>
<polygon points="548.50,847.70 549.75,851.20 550.50,856.70 551.20,864.40 548.50,862.50 545.80,864.40 546.50,856.70 547.25,851.20" fill="#111"/>
<polygon points="548.50,887.40 547.25,883.90 546.50,878.40 545.80,870.70 548.50,872.60 551.20,870.70 550.50,878.40 549.75,883.90" fill="#111"/>
<text transform="translate(541.50,804.50) rotate(-90) skewX(-4) scale(0.7994,1)" text-anchor="middle">280</text>
<line x1="541.50" y1="928.50" x2="573.90" y2="928.50" stroke="#636363" stroke-width="1.1" stroke-linecap="butt"/>
<line x1="541.50" y1="968.50" x2="573.90" y2="968.50" stroke="#636363" stroke-width="1.1" stroke-linecap="butt"/>
<line x1="548.50" y1="928.30" x2="548.50" y2="968.30" stroke="#636363" stroke-width="1.1" stroke-linecap="butt"/>
<polygon points="548.50,928.30 549.75,931.80 550.50,937.30 551.20,945.00 548.50,943.10 545.80,945.00 546.50,937.30 547.25,931.80" fill="#111"/>
<polygon points="548.50,968.30 547.25,964.80 546.50,959.30 545.80,951.60 548.50,953.50 551.20,951.60 550.50,959.30 549.75,964.80" fill="#111"/>
<text transform="translate(541.50,949.50) rotate(-90) skewX(-4) scale(0.7745,1)" text-anchor="middle">290</text>
</svg>
</body></html>
